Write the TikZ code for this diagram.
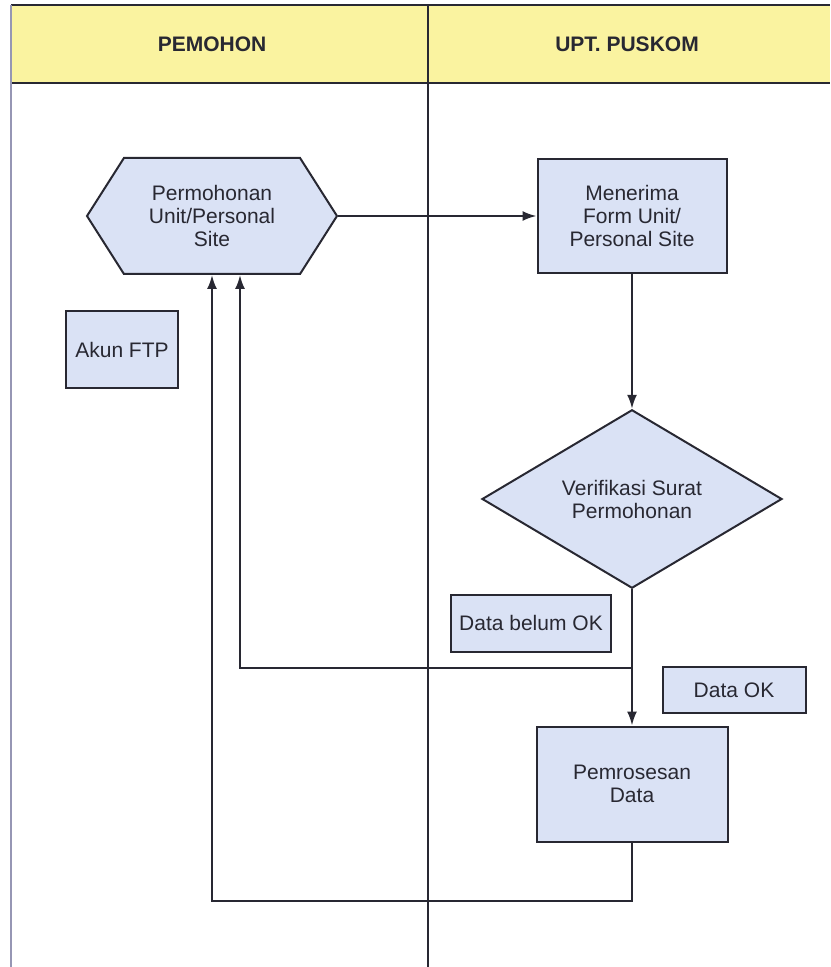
\documentclass[tikz,border=0pt]{standalone}
\usepackage{fontspec}
\setmainfont{Liberation Sans}
\usetikzlibrary{shapes.geometric,shapes.symbols,arrows.meta}
\definecolor{kotak}{RGB}{218,226,245}
\definecolor{kepala}{RGB}{250,243,160}
\definecolor{garis}{RGB}{40,40,50}
\definecolor{tepi}{RGB}{150,150,180}
\begin{document}
\begin{tikzpicture}[x=0.5pt,y=-0.5pt,>={Latex[length=7pt,width=5pt]},
    every node/.style={font=\fontsize{10.5}{11.5}\selectfont,align=center,text=garis},
    proses/.style={rectangle,draw=garis,fill=kotak,line width=1pt,inner sep=1pt},
    keputusan/.style={diamond,draw=garis,fill=kotak,line width=1pt,inner sep=0pt,minimum width=150pt,minimum height=89pt},
    panah/.style={->,draw=garis,line width=1pt}]
    \useasboundingbox (0,0) rectangle (830,967);
    % swimlane
    \fill[kepala] (11,5) rectangle (830,83);
    \draw[garis,line width=0.8pt] (11,5) -- (830,5) (11,83) -- (830,83);
    \draw[tepi,line width=1pt] (11,5) -- (11,967);
    \draw[garis,line width=0.7pt] (428,5) -- (428,967);
    \node (pemohon) at (212,44) {\textbf{PEMOHON}};
    \node (puskom) at (627,44) {\textbf{UPT. PUSKOM}};

    \node[signal,signal to=west and east,signal pointer angle=115,draw=garis,fill=kotak,line width=1pt,
          minimum width=125pt,minimum height=58pt,inner sep=0pt] (mohon) at (212,216) {Permohonan\\Unit/Personal\\Site};
    \node[proses,minimum width=56pt,minimum height=38.5pt] (akun) at (122,350) {Akun FTP};
    \node[proses,minimum width=94.5pt,minimum height=57pt] (terima) at (632,216) {Menerima\\Form Unit/\\Personal Site};
    \node[keputusan] (verif) at (632,499) {Verifikasi Surat\\Permohonan};
    \node[proses,minimum width=80pt,minimum height=28.5pt] (belum) at (531,623) {Data belum OK};
    \node[proses,minimum width=71.5pt,minimum height=23pt] (dataok) at (734,690) {Data OK};
    \node[proses,minimum width=95.5pt,minimum height=57.5pt] (olah) at (632,784) {Pemrosesan\\Data};
    \coordinate (cabang) at (632,668);

    \draw[panah] (mohon.east) -- (terima.west);
    \draw[panah] (terima) -- (verif);
    \draw[panah] (verif) -- (olah);
    \draw[panah] (cabang) -| ([xshift=14pt]mohon.south);
    \draw[panah] (olah.south) -- ++(0,58) -| (mohon.south);
\end{tikzpicture}
\end{document}
